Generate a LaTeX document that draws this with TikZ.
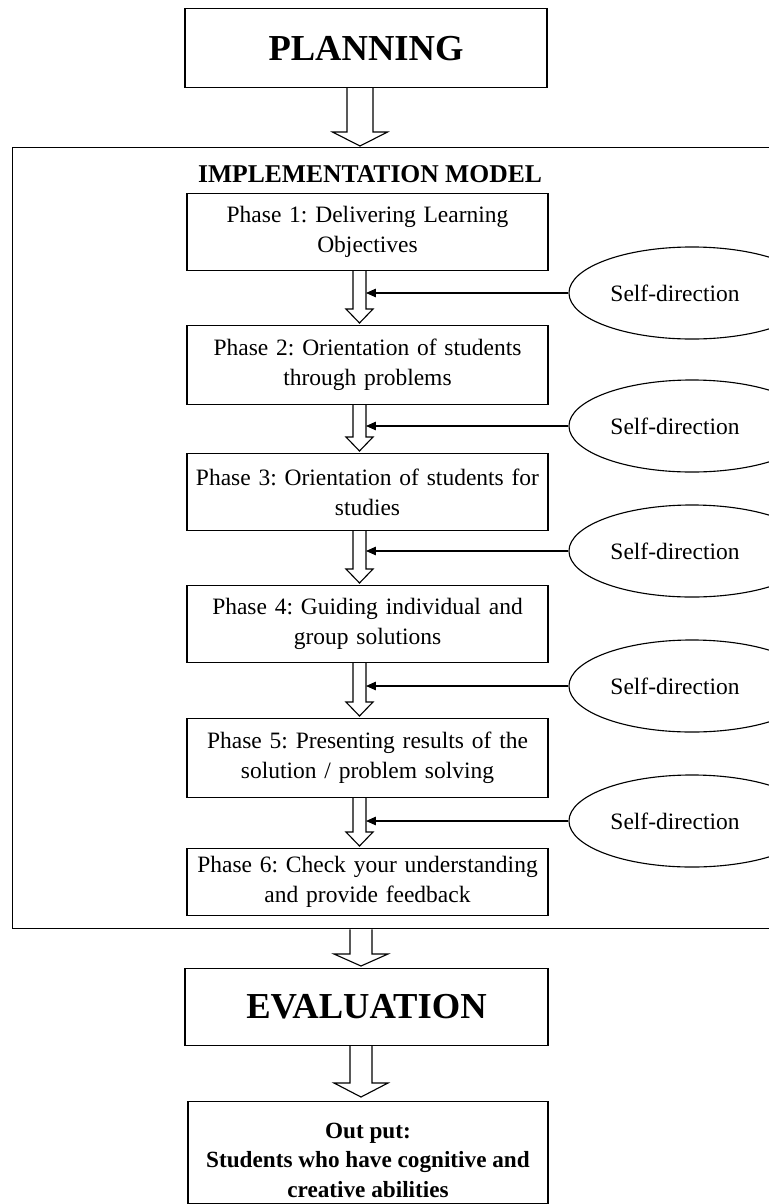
\documentclass[tikz,border=0pt]{standalone}
\usepackage{fontspec}
\setmainfont{Liberation Serif}
\usetikzlibrary{shapes.geometric, arrows.meta, positioning, calc}

% hollow block arrow: top point, tip point, shaft half width, head half width, head length
\newcommand\blkarrow[5]{%
  \draw[line width=0.8pt, fill=white] ($(#1)+(-#3,0)$) -- ($(#2)+(-#3,-#5)$) -- ($(#2)+(-#4,-#5)$)
    -- (#2) -- ($(#2)+(#4,-#5)$) -- ($(#2)+(#3,-#5)$) -- ($(#1)+(#3,0)$);}

\begin{document}
\frenchspacing
\begin{tikzpicture}[
    x=0.025cm, y=-0.025cm,
    every node/.style={font=\fontsize{16.7}{21.3}\selectfont},
    phase/.style={draw, line width=0.8pt, anchor=north, minimum width=9.025cm, text width=8.7cm, align=center, inner sep=0pt},
    title/.style={draw, line width=0.8pt, anchor=north, inner sep=0pt, font=\fontsize{26}{30}\selectfont\bfseries},
    selfdir/.style={draw, ellipse, line width=0.8pt, minimum width=6.15cm, minimum height=2.3cm, inner sep=0pt},
    feed/.style={-{Triangle[length=7pt,width=6pt]}, line width=0.8pt}
]
\useasboundingbox (0,0) rectangle (769,1204);
\clip (0,0) rectangle (769,1204);
\fill[white] (0,0) rectangle (769,1204);

%% Planning
\node[title, minimum width=9.05cm, minimum height=1.975cm] (plan) at (366,8) {PLANNING};

%% Implementation frame
\node[draw, line width=0.8pt, anchor=north west, minimum width=19.7cm, minimum height=19.525cm, inner sep=0pt] (impl) at (12,147) {};
\node[font=\fontsize{18.2}{21}\selectfont\bfseries] (head) at (370,174) {IMPLEMENTATION MODEL};

%% Phases
\node[phase, minimum height=1.925cm] (p1) at (367.5,193) {Phase 1: Delivering Learning\\Objectives};
\node[phase, minimum height=1.975cm] (p2) at (367.5,325) {Phase 2: Orientation of students\\through problems};
\node[phase, minimum height=1.925cm] (p3) at (367.5,453) {Phase 3: Orientation of students for\\studies};
\node[phase, minimum height=1.925cm] (p4) at (367.5,585) {Phase 4: Guiding individual and\\group solutions};
\node[phase, minimum height=1.975cm] (p5) at (367.5,718) {Phase 5: Presenting results of the\\solution / problem solving};
\node[phase, minimum height=1.675cm] (p6) at (367.5,848) {Phase 6: Check your understanding\\and provide feedback};

%% Evaluation and output
\node[title, minimum width=9.075cm, minimum height=1.925cm] (eval) at (366.5,968) {EVALUATION};
\node[draw, line width=0.8pt, anchor=north, minimum width=9cm, minimum height=2.55cm, align=center, inner sep=0pt,
      font=\fontsize{16.5}{20.9}\selectfont\bfseries] (out) at (368,1101) {\rule{0pt}{22pt}Out put:\\Students who have cognitive and\\creative abilities};

%% Block arrows
\coordinate (ptop) at ($(plan.south -| p1.north)+(-7.5,0)$);
\coordinate (ptip) at ($(impl.north -| ptop)+(0,-1)$);
\blkarrow{ptop}{ptip}{13}{27.5}{14}
\foreach \i [evaluate=\i as \j using int(\i+1)] in {1,...,5} {
  \coordinate (top\i) at ($(p\i.south)+(-8,0)$);
  \coordinate (tip\i) at ($(p\j.north -| top\i)+(0,-2)$);
  \blkarrow{top\i}{tip\i}{6.5}{13.5}{14}
}
\coordinate (etop) at ($(impl.south -| p6.south)+(-6.5,0)$);
\coordinate (etip) at ($(eval.north -| etop)+(0,-2)$);
\blkarrow{etop}{etip}{11}{27}{12}
\coordinate (otop) at ($(eval.south -| etop)$);
\coordinate (otip) at ($(out.north -| otop)+(0,-4)$);
\blkarrow{otop}{otip}{11}{27}{14}

%% Self-direction inputs
\foreach \i/\y in {1/293, 2/426, 3/551, 4/686, 5/821} {
  \node[selfdir] (e\i) at (692,\y) {};
  \node (t\i) at (675,\y) {Self-direction};
  \draw[feed] (e\i.west) -- ($(e\i.west -| p\i.south)+(-1.5,0)$);
}
\end{tikzpicture}
\end{document}
